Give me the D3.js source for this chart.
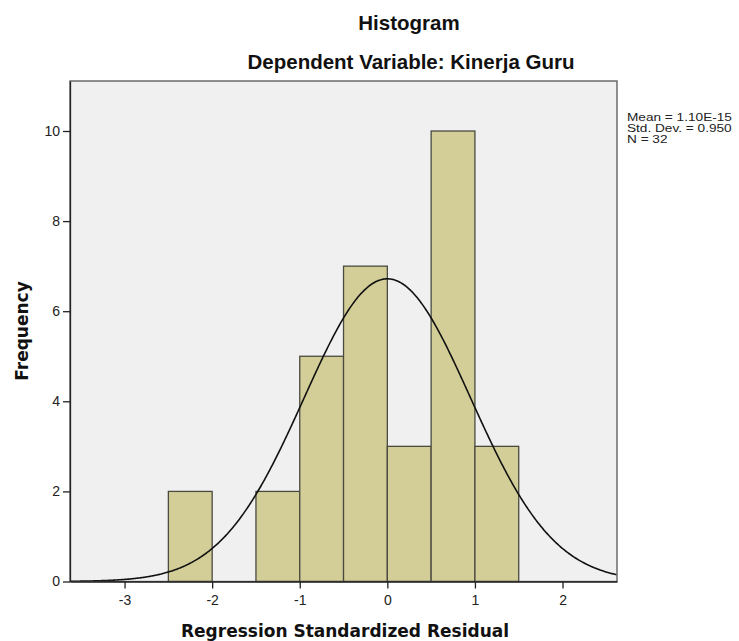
<!DOCTYPE html>
<html><head><meta charset="utf-8">
<script src="https://cdn.jsdelivr.net/npm/d3@7"></script>
<style>body{margin:0;background:#fff}</style>
</head><body>
<svg id="c" width="739" height="641"></svg>
<script>
const binStarts = [-2.5, -1.5, -1.0, -0.5, 0.0, 0.5, 1.0];
const binWidth = 0.5;
const counts = [2, 2, 5, 7, 3, 10, 3];
const xTicks = [-3, -2, -1, 0, 1, 2];
const yTicks = [0, 2, 4, 6, 8, 10];
const stats = ["Mean = 1.10E-15", "Std. Dev. = 0.950", "N = 32"];
const meanVal = 0, sdVal = 0.950, nVal = 32;

const svg = d3.select("#c");
const L = 70, R = 617, T = 81, B = 581.5;
const x = d3.scaleLinear().domain([-3.623, 2.622]).range([L, R]);
const y = d3.scaleLinear().domain([0, 11.11]).range([B, T]);

svg.append("rect").attr("x", L).attr("y", T).attr("width", R - L).attr("height", B - T)
  .attr("fill", "#f0f0f0");

svg.append("g").selectAll("rect").data(binStarts).join("rect")
  .attr("x", (d) => x(d))
  .attr("y", (d, i) => y(counts[i]))
  .attr("width", (d) => x(d + binWidth) - x(d))
  .attr("height", (d, i) => B - y(counts[i]))
  .attr("fill", "#d3ce97").attr("stroke", "#4a4a40").attr("stroke-width", 1.3);

const pts = d3.range(-3.623, 2.623, 0.01).map(v => [v, nVal * binWidth * Math.exp(-0.5 * ((v - meanVal) / sdVal) ** 2) / (sdVal * Math.sqrt(2 * Math.PI))]);
svg.append("path").datum(pts)
  .attr("d", d3.line().x(d => x(d[0])).y(d => y(d[1])).curve(d3.curveBasis))
  .attr("fill", "none").attr("stroke", "#111").attr("stroke-width", 1.6);

// frame
svg.append("rect").attr("x", L).attr("y", T).attr("width", R - L).attr("height", B - T)
  .attr("fill", "none").attr("stroke", "#555").attr("stroke-width", 1.3);

const font = "Liberation Sans, Arial, sans-serif";
const xa = svg.append("g").attr("transform", `translate(0,${B})`)
  .call(d3.axisBottom(x).tickValues(xTicks).tickSize(7).tickSizeOuter(0).tickFormat(d3.format("d")));
const ya = svg.append("g").attr("transform", `translate(${L},0)`)
  .call(d3.axisLeft(y).tickValues(yTicks).tickSize(7).tickSizeOuter(0).tickFormat(d3.format("d")));
[xa, ya].forEach(a => {
  a.select(".domain").attr("stroke", "#222").attr("stroke-width", 1.3);
  a.selectAll(".tick line").attr("stroke", "#222").attr("stroke-width", 1.3);
  a.selectAll(".tick text").attr("font-family", font).attr("font-size", 14).attr("fill", "#222");
});
xa.selectAll(".tick text").attr("y", 10).attr("dy", "0.95em").text(d => d < 0 ? "-" + Math.abs(d) : d);
ya.selectAll(".tick text").attr("x", -10);

svg.append("text").attr("x", 409).attr("y", 30).attr("text-anchor", "middle")
  .attr("font-family", font).attr("font-weight", "bold").attr("font-size", 20.5).attr("fill", "#111").text("Histogram");
svg.append("text").attr("x", 411).attr("y", 69).attr("text-anchor", "middle")
  .attr("font-family", font).attr("font-weight", "bold").attr("font-size", 20.5).attr("fill", "#111").text("Dependent Variable: Kinerja Guru");

svg.append("text").attr("x", 345).attr("y", 637).attr("text-anchor", "middle")
  .attr("font-family", "DejaVu Sans, sans-serif").attr("font-weight", "bold").attr("font-size", 17).attr("fill", "#111")
  .text("Regression Standardized Residual");
svg.append("text").attr("transform", "translate(28,331) rotate(-90)").attr("text-anchor", "middle")
  .attr("font-family", "DejaVu Sans, sans-serif").attr("font-weight", "bold").attr("font-size", 17).attr("fill", "#111")
  .text("Frequency");

svg.append("g").attr("transform", "translate(627,0) scale(1.3,1)")
  .selectAll("text").data(stats).join("text")
  .attr("x", 0).attr("y", (d, i) => 121 + i * 11)
  .attr("font-family", font).attr("font-size", 10.5).attr("fill", "#222").text(d => d);
</script>
</body></html>
